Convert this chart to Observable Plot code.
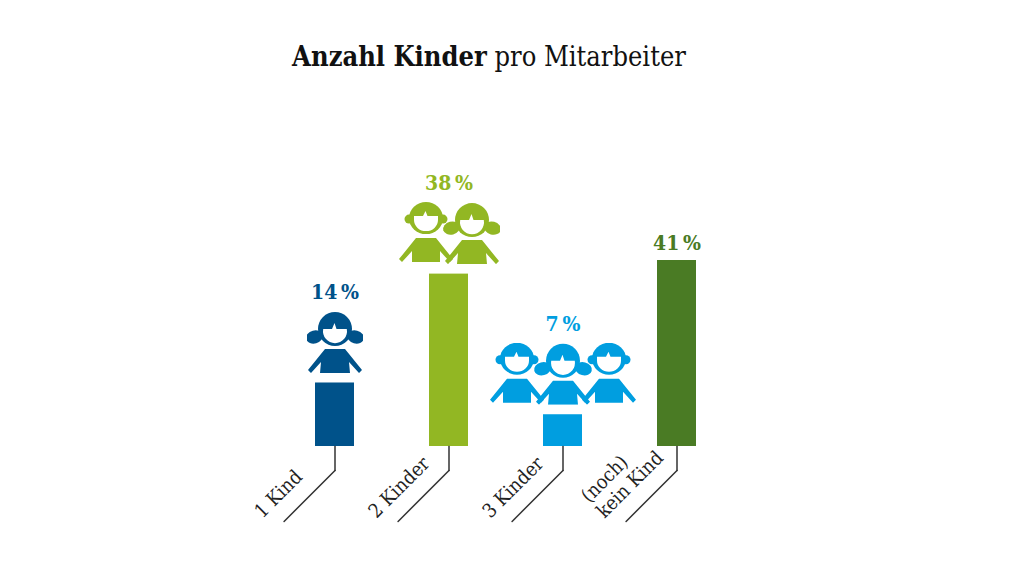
<!DOCTYPE html>
<html><head><meta charset="utf-8">
<script src="https://cdn.jsdelivr.net/npm/d3@7"></script>
<script src="https://cdn.jsdelivr.net/npm/@observablehq/plot@0.6"></script>
<style>
html,body{margin:0;padding:0;background:#fff;}
#title{height:90px;position:relative;font-family:"DejaVu Serif Condensed","DejaVu Serif",serif;}
#title div{position:absolute;left:0;width:978px;top:43px;text-align:center;font-size:27px;line-height:27px;color:#111;}
</style></head><body>
<div id="title"><div><b>Anzahl Kinder</b> pro Mitarbeiter</div></div>
<div id="chart"></div>
<script>
const categories = ["1 Kind", "2 Kinder", "3 Kinder", "(noch)\nkein Kind"];
const shares = [14, 38, 7, 41];
const shareLabels = ["14\u2009%", "38\u2009%", "7\u2009%", "41\u2009%"];
const colors = ["#00528a", "#92b723", "#009ee0", "#4a7b24"];
const children = [["girl"], ["boy", "girl"], ["boy", "girl", "boy"], []];

const rows = categories.map((c, i) => ({category: c, share: shares[i], label: shareLabels[i], color: colors[i], kids: children[i]}));
const withKids = rows.filter(d => d.kids.length > 0);
const withoutKids = rows.filter(d => d.kids.length === 0);

const SPACING = 46, CW = 56, CH = 62;
function girl(c) {
  return `<ellipse cx="7.5" cy="26" rx="8.5" ry="6.5" transform="rotate(-15 7.5 26)" fill="${c}"/>`+
    `<ellipse cx="48.5" cy="26" rx="8.5" ry="6.5" transform="rotate(15 48.5 26)" fill="${c}"/>`+
    `<circle cx="28" cy="18" r="17" fill="${c}"/>`+
    `<path d="M16.2 18 L25 18 L27.5 12 L29.5 18 L39.8 18 A12 12 0 1 1 16.2 18 Z" fill="#fff"/>`+
    `<path d="M18 38 L38 38 L55 59 L52 62 L42 51 L43 62 L13 62 L14 51 L4 62 L1 59 Z" fill="${c}"/>`;
}
function boy(c) {
  return `<circle cx="11" cy="17" r="4.5" fill="${c}"/><circle cx="45" cy="17" r="4.5" fill="${c}"/>`+
    `<ellipse cx="28" cy="16" rx="17" ry="16" fill="${c}"/>`+
    `<path d="M16 14 L25 14 L27.5 9 L29.5 14 L40 14 L40 18 A12 11 0 0 1 16 18 Z" fill="#fff"/>`+
    `<path d="M18 36 L38 36 L55 57 L52 60 L42 49 L42 60 L14 60 L14 49 L4 60 L1 57 Z" fill="${c}"/>`;
}
function groupWidth(kids) { return CW + SPACING * (kids.length - 1); }
function groupSrc(kids, color) {
  const w = groupWidth(kids);
  let s = `<svg xmlns="http://www.w3.org/2000/svg" width="${w}" height="${CH}" viewBox="0 0 ${w} ${CH}">`;
  kids.forEach((k, j) => { s += `<g transform="translate(${j * SPACING},0)">${k === "girl" ? girl(color) : boy(color)}</g>`; });
  s += "</svg>";
  return "data:image/svg+xml;charset=utf-8," + encodeURIComponent(s);
}

const lineShape = {draw(context, l) { context.moveTo(0, 0); context.lineTo(0, -l); }};
const labelFont = "'DejaVu Serif Condensed', 'DejaVu Serif', serif";

const chart = Plot.plot({
  width: 1014, height: 478,
  marginLeft: 295, marginRight: 298, marginTop: 170, marginBottom: 122,
  x: {domain: categories, paddingInner: 0.66, paddingOuter: 0.17, axis: null},
  y: {domain: [0, 41], axis: null},
  color: {domain: categories, range: colors},
  style: {fontFamily: labelFont, overflow: "visible", background: "#fff"},
  marks: [
    Plot.barY(rows, {x: "category", y: "share", fill: "category"}),
    Plot.image(withKids, {x: "category", y: "share", src: d => groupSrc(d.kids, d.color), width: d => groupWidth(d.kids), height: CH, dy: -41, preserveAspectRatio: "none"}),
    Plot.text(withKids, {x: "category", y: "share", text: "label", fill: "category", dy: -84, lineAnchor: "bottom", fontSize: 21, fontWeight: "bold"}),
    Plot.text(withoutKids, {x: "category", y: "share", text: "label", fill: "category", dy: -11, lineAnchor: "bottom", fontSize: 21, fontWeight: "bold"}),
    Plot.vector(rows, {x: "category", frameAnchor: "bottom", rotate: 180, length: 24, anchor: "start", shape: lineShape, stroke: "#333", fill: "none", strokeWidth: 1.5}),
    Plot.vector(rows, {x: "category", frameAnchor: "bottom", dy: 24, rotate: 225, length: 72, anchor: "start", shape: lineShape, stroke: "#333", fill: "none", strokeWidth: 1.5}),
    Plot.text(rows, {x: "category", frameAnchor: "bottom", text: "category", rotate: -45, textAnchor: "start", lineAnchor: "bottom", dx: -72.5, dy: 72.5, fontSize: 19.5, fill: "#222", lineHeight: 1.12})
  ]
});
document.getElementById("chart").appendChild(chart);
</script>
</body></html>
